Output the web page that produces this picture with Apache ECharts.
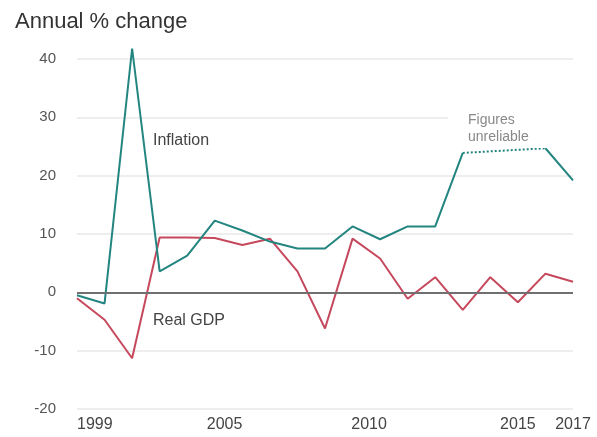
<!DOCTYPE html>
<html>
<head>
<meta charset="utf-8">
<script src="https://cdn.jsdelivr.net/npm/echarts@6/dist/echarts.min.js"></script>
<style>
  html, body { margin: 0; padding: 0; background: #ffffff; }
  #main { width: 597px; height: 437px; }
</style>
</head>
<body>
<div id="main"></div>
<script>
// data
var years = ['1999', '2000', '2001', '2002', '2003', '2004', '2005', '2006', '2007', '2008',
             '2009', '2010', '2011', '2012', '2013', '2014', '2015', '2016', '2017'];
var xTickLabels = ['1999', '2005', '2010', '2015', '2017'];
var yTicks = [-20, -10, 0, 10, 20, 30, 40];

var inflation = [-0.5, -1.9, 41.8, 3.6, 6.3, 12.3, 10.6, 8.7, 7.5, 7.5,
                 11.3, 9.1, 11.3, 11.3, 23.9, null, null, 24.7, 19.2];
// 2013 -> 2016 stretch drawn dotted ("figures unreliable")
var inflationUnreliable = [null, null, null, null, null, null, null, null, null, null,
                           null, null, null, null, 23.9, null, null, 24.7, null];
var realGdp = [-1.0, -4.7, -11.3, 9.4, 9.4, 9.3, 8.1, 9.2, 3.6, -6.2,
               9.2, 5.8, -1.1, 2.6, -3.0, 2.6, -1.7, 3.2, 1.8];

var tealColor = '#238580';
var redColor = '#c6485c';
var fontFamily = '"Liberation Sans", Arial, Helvetica, sans-serif';

var myChart = echarts.init(document.getElementById('main'));

// shift some of the year labels like in the original
var labelAlign = { '1999': 'left', '2005': 'right' };
var xData = years.map(function (y) {
    var item = { value: y };
    if (labelAlign[y]) {
        item.textStyle = { align: labelAlign[y] };
    }
    if (y === '2010') {
        item.textStyle = { padding: [0, 22, 0, 0] };
    }
    return item;
});

var option = {
    backgroundColor: '#ffffff',
    animation: false,
    textStyle: { fontFamily: fontFamily },
    title: {
        text: 'Annual % change',
        left: 10,
        top: 6,
        textStyle: {
            fontSize: 22,
            fontWeight: 'normal',
            color: '#333',
            fontFamily: fontFamily
        }
    },
    grid: {
        left: 77,
        right: 24,
        top: 59,
        bottom: 28,
        containLabel: false
    },
    xAxis: {
        type: 'category',
        data: xData,
        boundaryGap: false,
        axisLine: { show: false },
        axisTick: { show: false },
        axisLabel: {
            interval: function (index, value) {
                return xTickLabels.indexOf(value) >= 0;
            },
            color: '#444',
            fontSize: 16,
            margin: 8,
            fontFamily: fontFamily
        },
        splitLine: { show: false }
    },
    yAxis: {
        type: 'value',
        min: yTicks[0],
        max: yTicks[yTicks.length - 1],
        interval: 10,
        axisLine: { show: false },
        axisTick: { show: false },
        axisLabel: {
            color: '#555',
            fontSize: 15,
            margin: 21,
            fontFamily: fontFamily
        },
        splitLine: {
            lineStyle: { color: '#e8e8e8', width: 1.5 }
        }
    },
    series: [{
        name: 'Real GDP',
        type: 'line',
        data: realGdp,
        symbol: 'none',
        lineStyle: { color: redColor, width: 2 },
        z: 3,
        markLine: {
            silent: true,
            symbol: 'none',
            label: { show: false },
            lineStyle: { color: '#707070', width: 2, type: 'solid' },
            data: [{ yAxis: 0 }]
        }
    }, {
        name: 'Inflation',
        type: 'line',
        data: inflation,
        symbol: 'none',
        clip: false,
        connectNulls: false,
        lineStyle: { color: tealColor, width: 2 },
        z: 4
    }, {
        name: 'Inflation (unreliable)',
        type: 'line',
        data: inflationUnreliable,
        symbol: 'none',
        connectNulls: true,
        lineStyle: { color: tealColor, width: 2, type: [2, 2] },
        z: 4
    }],
    graphic: [{
        type: 'text',
        left: 153,
        top: 133,
        style: { text: 'Inflation', fill: '#444', fontSize: 16, fontFamily: fontFamily }
    }, {
        type: 'text',
        left: 153,
        top: 313,
        style: { text: 'Real GDP', fill: '#444', fontSize: 16, fontFamily: fontFamily }
    }, {
        type: 'text',
        left: 448,
        top: 110,
        z: 10,
        style: {
            text: 'Figures\nunreliable',
            fill: '#888',
            fontSize: 14,
            lineHeight: 17,
            fontFamily: fontFamily,
            backgroundColor: '#ffffff',
            padding: [2, 50, 2, 20]
        }
    }]
};

myChart.setOption(option);
</script>
</body>
</html>
